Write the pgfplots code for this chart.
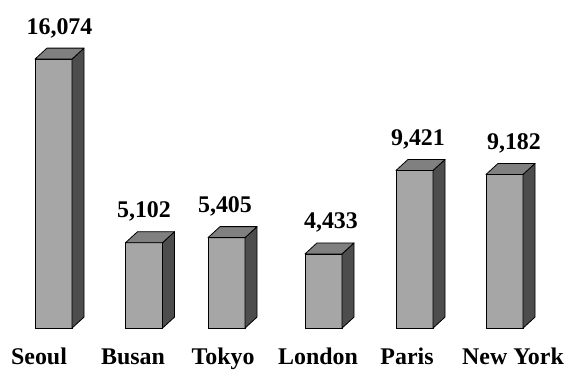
\documentclass[border=0pt]{standalone}
\usepackage{pgfplots}
\pgfplotsset{compat=1.18}
\usepackage{pgfplotstable}
\usepackage{fontspec}
\setmainfont{Liberation Serif}
\definecolor{frontgray}{HTML}{A6A6A6}
\definecolor{topgray}{HTML}{808080}
\definecolor{sidegray}{HTML}{4D4D4D}
\pgfdeclareplotmark{blank}{}

% bar centre (bp from the left), value, horizontal offset of the value label
\pgfplotstableread{
x v dx
53.5 16074 6
144 5102 0
226.5 5405 -1.5
323.5 4433 7.5
414.5 9421 3.5
504.5 9182 9.5
}\cities

\begin{document}
\begin{tikzpicture}
\begin{axis}[
  scale only axis, width=565bp, height=328bp,
  xmin=0, xmax=565, ymin=0, ymax=19600,
  clip=false,
  axis line style={draw=none},
  major tick length=0pt,
  ytick=\empty,
  xtick={39,133,223,318,407,513},
  xticklabels={Seoul,Busan,Tokyo,London,Paris,New York},
  xticklabel style={anchor=base, inner sep=0pt, yshift=-36bp,
    font=\bfseries\fontsize{24}{28}\selectfont},
  /pgf/number format/.cd, fixed, precision=0, 1000 sep={,}, assume math mode=true,
]
% front faces
\addplot[ybar, bar width=37bp, fill=frontgray, draw=black, line width=0.8bp,
  point meta=explicit,
  visualization depends on={\thisrow{dx} \as \dx},
  nodes near coords={\pgfmathprintnumber{\pgfplotspointmeta}},
  nodes near coords style={anchor=base, inner sep=0pt, yshift=25bp, xshift=\dx bp,
    font=\bfseries\fontsize{24}{28}\selectfont, text=black},
] table[x=x, y=v, meta=v] {\cities};
% side and top faces of each box
\addplot[scatter, only marks, mark=blank,
  visualization depends on={rawy \as \v},
  scatter/@pre marker code/.code={
    \filldraw[fill=sidegray, draw=black, line width=0.8bp, line join=round]
      (18.5bp,0) -- (30.5bp,11bp)
      -- ([shift={(30.5bp,11bp)}]axis direction cs:0,-\v)
      -- ([shift={(18.5bp,0bp)}]axis direction cs:0,-\v) -- cycle;
    \filldraw[fill=topgray, draw=black, line width=0.8bp, line join=round]
      (-18.5bp,0) -- (18.5bp,0) -- (30.5bp,11bp) -- (-6.5bp,11bp) -- cycle;
  },
  scatter/@post marker code/.code={},
] table[x=x, y=v] {\cities};
\end{axis}
\path[use as bounding box] (0,-41bp) rectangle (565bp,328bp);
\end{tikzpicture}
\end{document}
